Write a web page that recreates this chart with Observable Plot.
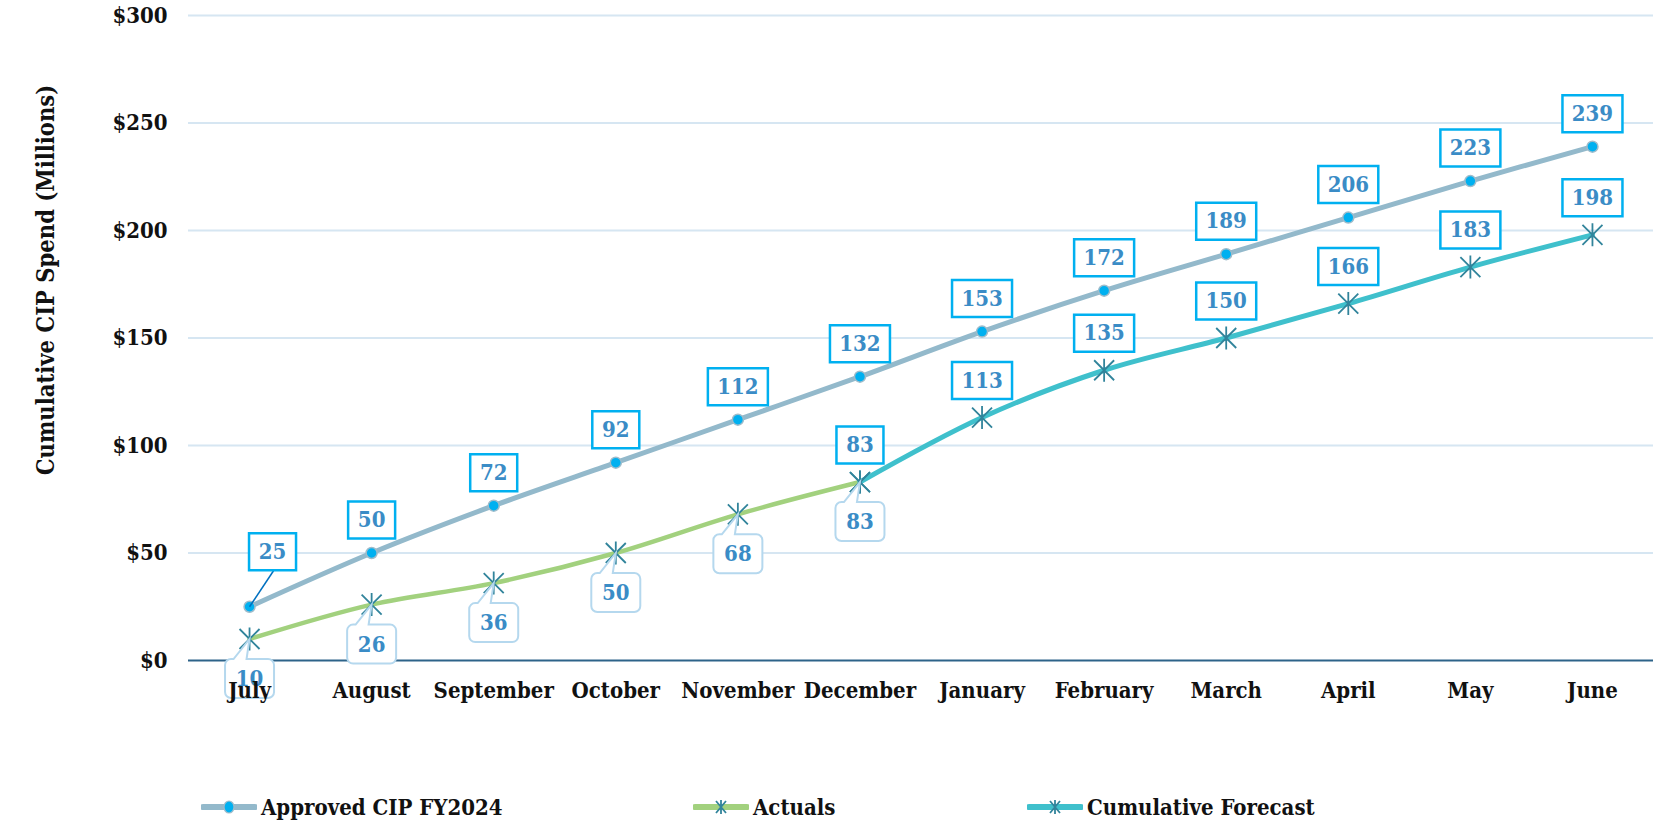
<!DOCTYPE html>
<html><head><meta charset="utf-8">
<script src="https://cdn.jsdelivr.net/npm/d3@7"></script>
<script src="https://cdn.jsdelivr.net/npm/@observablehq/plot@0.6"></script>
<style>
body{margin:0;background:#fff;}
#chart{position:relative;width:1653px;height:822px;font-family:"DejaVu Serif",serif;font-stretch:condensed;}
#chart svg{display:block;font-stretch:condensed;}
.legend{position:absolute;top:794px;left:0;width:1653px;height:26px;font-weight:bold;font-size:22px;color:#111;}
.item{position:absolute;top:0;display:flex;align-items:center;height:26px;white-space:nowrap;}
.item svg{margin-right:4px;}
</style></head>
<body><div id="chart"></div>
<script>
const months = ["July","August","September","October","November","December","January","February","March","April","May","June"];
const approved = [25,50,72,92,112,132,153,172,189,206,223,239];
const actualMonths = ["July","August","September","October","November","December"];
const actuals = [10,26,36,50,68,83];
const forecastMonths = ["December","January","February","March","April","May","June"];
const forecast = [83,113,135,150,166,183,198];
const yTicks = [0,50,100,150,200,250,300];
const yTitle = "Cumulative CIP Spend (Millions)";
const seriesNames = ["Approved CIP FY2024","Actuals","Cumulative Forecast"];

const approvedData = months.map((m,i)=>({month:m,value:approved[i]}));
const actualData = actualMonths.map((m,i)=>({month:m,value:actuals[i]}));
const forecastData = forecastMonths.map((m,i)=>({month:m,value:forecast[i]}));

const C = {
  approved:"#93b9cb", approvedDot:"#00b0f0", approvedDotStroke:"#9fbccb",
  actual:"#a2d17e", forecast:"#3fc0cc", star:"#31849b",
  label:"#3a8cc6", box:"#00b0f0", callout:"#b5d8ee",
  grid:"#d6e6f2", axis:"#2d6389", leader:"#0070c0"
};
const FONT = "DejaVu Serif, serif";

const star = {draw(ctx){const a=10,v=11.5;ctx.moveTo(-a,-a);ctx.lineTo(a,a);ctx.moveTo(-a,a);ctx.lineTo(a,-a);ctx.moveTo(0,-v);ctx.lineTo(0,v);}};
function boxSym(w,h,cx,cy){return {draw(ctx){ctx.rect(cx-w/2,cy-h/2,w,h);}};}
function calloutSym(w,h,top,r){return {draw(ctx){
  const l=-w/2, rt=w/2, t=top, b=top+h;
  ctx.moveTo(l+r,t);
  ctx.lineTo(-16,t);
  ctx.lineTo(0,0);
  ctx.lineTo(-3,t);
  ctx.lineTo(rt-r,t);
  ctx.arcTo(rt,t,rt,t+r,r);
  ctx.lineTo(rt,b-r);
  ctx.arcTo(rt,b,rt-r,b,r);
  ctx.lineTo(l+r,b);
  ctx.arcTo(l,b,l,b-r,r);
  ctx.lineTo(l,t+r);
  ctx.arcTo(l,t,l+r,t,r);
  ctx.closePath();
}};}
const leader = {draw(ctx){ctx.moveTo(0,0);ctx.lineTo(24,-36);}};

const wide = d => d.value >= 100;
const apFirst = approvedData.slice(0,1);
const apRest = approvedData.slice(1);
const labelFont = {fontSize:22, fontWeight:"bold", fill:C.label, fontFamily:FONT};

const plot = Plot.plot({
  width:1653, height:780,
  marginLeft:188, marginRight:0, marginTop:15, marginBottom:120,
  style:{fontFamily:FONT, fontSize:"22px", fontWeight:"bold", color:"#111", background:"#fff", fontStretch:"condensed"},
  x:{type:"point", domain:months, padding:0.5, round:false, label:null},
  y:{domain:[0,300], ticks:yTicks, label:null},
  marks:[
    Plot.gridY(yTicks.filter(d=>d>0), {stroke:C.grid, strokeOpacity:1, strokeWidth:2}),
    Plot.ruleY([0], {stroke:C.axis, strokeWidth:2}),
    Plot.axisY(yTicks, {tickSize:0, tickPadding:21, tickFormat:d=>"$"+d, fontSize:22, fontWeight:"bold"}),
    Plot.line(approvedData, {x:"month", y:"value", stroke:C.approved, strokeWidth:5, curve:"cardinal"}),
    Plot.line(actualData, {x:"month", y:"value", stroke:C.actual, strokeWidth:4.5, curve:"cardinal"}),
    Plot.line(forecastData, {x:"month", y:"value", stroke:C.forecast, strokeWidth:5, curve:"cardinal"}),
    Plot.dot(approvedData, {x:"month", y:"value", r:5.5, fill:C.approvedDot, stroke:C.approvedDotStroke, strokeWidth:1.5}),
    Plot.dot(actualData, {x:"month", y:"value", symbol:star, stroke:C.star, strokeWidth:1.8}),
    Plot.dot(forecastData, {x:"month", y:"value", symbol:star, stroke:C.star, strokeWidth:1.8}),
    Plot.dot(apFirst, {x:"month", y:"value", symbol:leader, stroke:C.leader, strokeWidth:1.5}),
    Plot.dot(apFirst, {x:"month", y:"value", symbol:boxSym(47,37,23,-55), fill:"#fff", stroke:C.box, strokeWidth:2.5}),
    Plot.dot(apRest.filter(d=>!wide(d)), {x:"month", y:"value", symbol:boxSym(47,37,0,-33), fill:"#fff", stroke:C.box, strokeWidth:2.5}),
    Plot.dot(apRest.filter(wide), {x:"month", y:"value", symbol:boxSym(60,37,0,-33), fill:"#fff", stroke:C.box, strokeWidth:2.5}),
    Plot.text(apFirst, {x:"month", y:"value", text:d=>String(d.value), dx:23, dy:-55, ...labelFont}),
    Plot.text(apRest, {x:"month", y:"value", text:d=>String(d.value), dy:-33, ...labelFont}),
    Plot.dot(forecastData.filter(d=>!wide(d)), {x:"month", y:"value", symbol:boxSym(47,37,0,-37), fill:"#fff", stroke:C.box, strokeWidth:2.5}),
    Plot.dot(forecastData.filter(wide), {x:"month", y:"value", symbol:boxSym(60,37,0,-37), fill:"#fff", stroke:C.box, strokeWidth:2.5}),
    Plot.text(forecastData, {x:"month", y:"value", text:d=>String(d.value), dy:-37, ...labelFont}),
    Plot.dot(actualData, {x:"month", y:"value", symbol:calloutSym(49,39,20,6), fill:"#fff", stroke:C.callout, strokeWidth:2}),
    Plot.text(actualData, {x:"month", y:"value", text:d=>String(d.value), dy:40, ...labelFont}),
    Plot.axisX({tickSize:0, tickPadding:22, fontSize:22, fontWeight:"bold"}),
    Plot.text([yTitle], {frameAnchor:"left", textAnchor:"middle", rotate:-90, dx:-142, dy:-58, fontSize:23.5, fontWeight:"bold", fill:"#111"})
  ]
});
const chart = document.getElementById("chart");
chart.appendChild(plot);

const legend = document.createElement("div");
legend.className = "legend";
const lefts = [201, 693, 1027];
const swatches = [
  `<svg width="56" height="14"><line x1="2" y1="7" x2="54" y2="7" stroke="${C.approved}" stroke-width="6" stroke-linecap="round"/><ellipse cx="28" cy="7" rx="5" ry="6" fill="${C.approvedDot}" stroke="${C.approvedDotStroke}" stroke-width="1.2"/></svg>`,
  `<svg width="56" height="14"><line x1="2" y1="7" x2="54" y2="7" stroke="${C.actual}" stroke-width="6" stroke-linecap="round"/><path d="M23,1L33,13M23,13L33,1M28,0L28,14" stroke="${C.star}" stroke-width="1.8" fill="none"/></svg>`,
  `<svg width="56" height="14"><line x1="2" y1="7" x2="54" y2="7" stroke="${C.forecast}" stroke-width="6" stroke-linecap="round"/><path d="M23,1L33,13M23,13L33,1M28,0L28,14" stroke="${C.star}" stroke-width="1.8" fill="none"/></svg>`
];
seriesNames.forEach((n,i)=>{
  const it = document.createElement("div");
  it.className = "item";
  it.style.left = lefts[i]+"px";
  it.innerHTML = swatches[i] + `<span>${n}</span>`;
  legend.appendChild(it);
});
chart.appendChild(legend);
</script>
</body></html>
